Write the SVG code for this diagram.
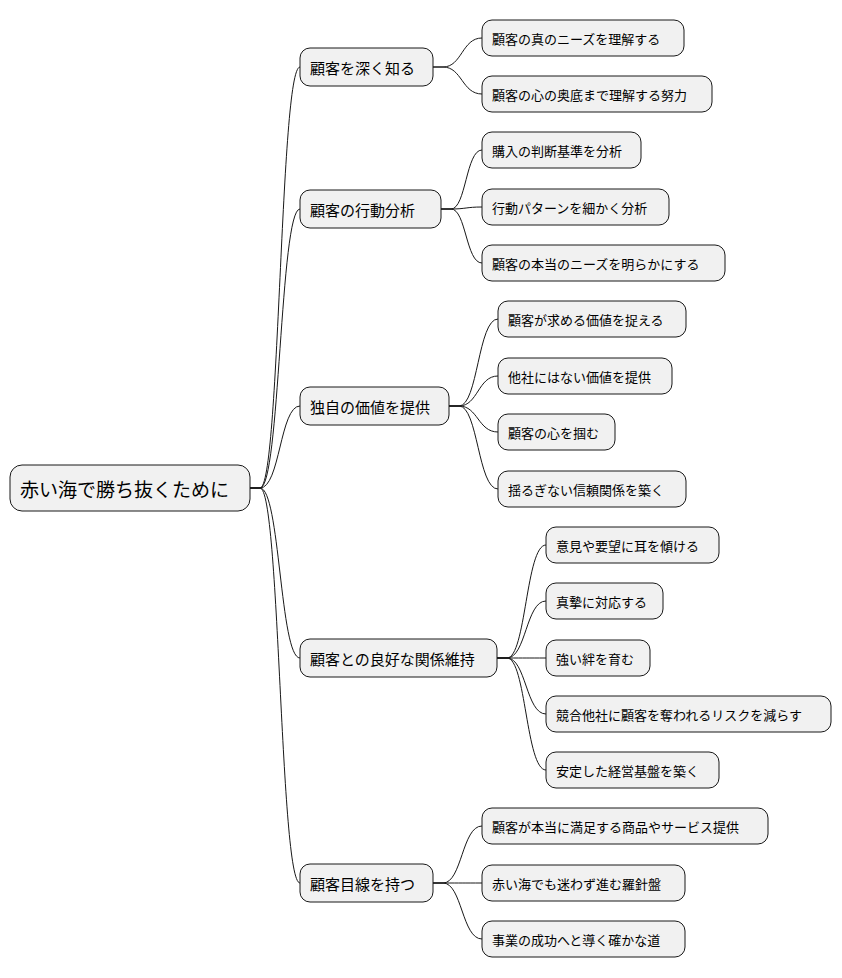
<svg xmlns="http://www.w3.org/2000/svg" width="842" height="978" viewBox="0 0 842 978">
<style>
rect{fill:#f1f1f1;stroke:#181818;stroke-width:1}
text{font-family:"Noto Sans CJK JP","Noto Sans",sans-serif;fill:#000;dominant-baseline:central}
.t0{font-size:19px}.t1{font-size:15px}.t2{font-size:13px}
#edges path{fill:none;stroke:#181818;stroke-width:1}
</style>
<rect x="0" y="0" width="842" height="978" fill="#fff" style="fill:#fff;stroke:none"/>
<g id="edges">
<path d="M250 488 L260 488 C280 488 280 67 300 67"/>
<path d="M250 488 L260 488 C280 488 280 209 300 209"/>
<path d="M250 488 L260 488 C280 488 280 406 300 406"/>
<path d="M250 488 L260 488 C280 488 280 658 300 658"/>
<path d="M250 488 L260 488 C280 488 280 883 300 883"/>
<path d="M433 67 L443 67 C462 67 462 38 482 38"/>
<path d="M433 67 L443 67 C462 67 462 94 482 94"/>
<path d="M441 209 L451 209 C466 209 466 150 482 150"/>
<path d="M441 209 L451 209 C466 209 466 207 482 207"/>
<path d="M441 209 L451 209 C466 209 466 263 482 263"/>
<path d="M449 406 L459 406 C478 406 478 319 498 319"/>
<path d="M449 406 L459 406 C478 406 478 376 498 376"/>
<path d="M449 406 L459 406 C478 406 478 432 498 432"/>
<path d="M449 406 L459 406 C478 406 478 489 498 489"/>
<path d="M497 658 L507 658 C526 658 526 545 546 545"/>
<path d="M497 658 L507 658 C526 658 526 601 546 601"/>
<path d="M497 658 L507 658 C526 658 526 658 546 658"/>
<path d="M497 658 L507 658 C526 658 526 714 546 714"/>
<path d="M497 658 L507 658 C526 658 526 770 546 770"/>
<path d="M433 883 L443 883 C462 883 462 826 482 826"/>
<path d="M433 883 L443 883 C462 883 462 883 482 883"/>
<path d="M433 883 L443 883 C462 883 462 939 482 939"/>
</g>
<g id="root"><rect x="10" y="465" width="240" height="46" rx="12"/><text class="t0" x="20" y="488">赤い海で勝ち抜くために</text></g>
<g id="n1"><rect x="300" y="48" width="133" height="38" rx="10"/><text class="t1" x="310" y="67">顧客を深く知る</text></g>
<g id="n2"><rect x="300" y="190" width="141" height="38" rx="10"/><text class="t1" x="310" y="209">顧客の行動分析</text></g>
<g id="n3"><rect x="300" y="387" width="149" height="38" rx="10"/><text class="t1" x="310" y="406">独自の価値を提供</text></g>
<g id="n4"><rect x="300" y="639" width="197" height="38" rx="10"/><text class="t1" x="310" y="658">顧客との良好な関係維持</text></g>
<g id="n5"><rect x="300" y="864" width="133" height="38" rx="10"/><text class="t1" x="310" y="883">顧客目線を持つ</text></g>
<g id="n11"><rect x="482" y="20" width="202" height="36" rx="10"/><text class="t2" x="492" y="38">顧客の真のニーズを理解する</text></g>
<g id="n12"><rect x="482" y="76" width="230" height="36" rx="10"/><text class="t2" x="492" y="94">顧客の心の奥底まで理解する努力</text></g>
<g id="n21"><rect x="482" y="132" width="159" height="36" rx="10"/><text class="t2" x="492" y="150">購入の判断基準を分析</text></g>
<g id="n22"><rect x="482" y="189" width="187" height="36" rx="10"/><text class="t2" x="492" y="207">行動パターンを細かく分析</text></g>
<g id="n23"><rect x="482" y="245" width="243" height="36" rx="10"/><text class="t2" x="492" y="263">顧客の本当のニーズを明らかにする</text></g>
<g id="n31"><rect x="498" y="301" width="188" height="36" rx="10"/><text class="t2" x="508" y="319">顧客が求める価値を捉える</text></g>
<g id="n32"><rect x="498" y="358" width="174" height="36" rx="10"/><text class="t2" x="508" y="376">他社にはない価値を提供</text></g>
<g id="n33"><rect x="498" y="414" width="117" height="36" rx="10"/><text class="t2" x="508" y="432">顧客の心を掴む</text></g>
<g id="n34"><rect x="498" y="471" width="188" height="36" rx="10"/><text class="t2" x="508" y="489">揺るぎない信頼関係を築く</text></g>
<g id="n41"><rect x="546" y="527" width="173" height="36" rx="10"/><text class="t2" x="556" y="545">意見や要望に耳を傾ける</text></g>
<g id="n42"><rect x="546" y="583" width="117" height="36" rx="10"/><text class="t2" x="556" y="601">真摯に対応する</text></g>
<g id="n43"><rect x="546" y="640" width="104" height="36" rx="10"/><text class="t2" x="556" y="658">強い絆を育む</text></g>
<g id="n44"><rect x="546" y="696" width="285" height="36" rx="10"/><text class="t2" x="556" y="714">競合他社に顧客を奪われるリスクを減らす</text></g>
<g id="n45"><rect x="546" y="752" width="173" height="36" rx="10"/><text class="t2" x="556" y="770">安定した経営基盤を築く</text></g>
<g id="n51"><rect x="482" y="808" width="286" height="36" rx="10"/><text class="t2" x="492" y="826">顧客が本当に満足する商品やサービス提供</text></g>
<g id="n52"><rect x="482" y="865" width="203" height="36" rx="10"/><text class="t2" x="492" y="883">赤い海でも迷わず進む羅針盤</text></g>
<g id="n53"><rect x="482" y="921" width="203" height="36" rx="10"/><text class="t2" x="492" y="939">事業の成功へと導く確かな道</text></g>
</svg>
